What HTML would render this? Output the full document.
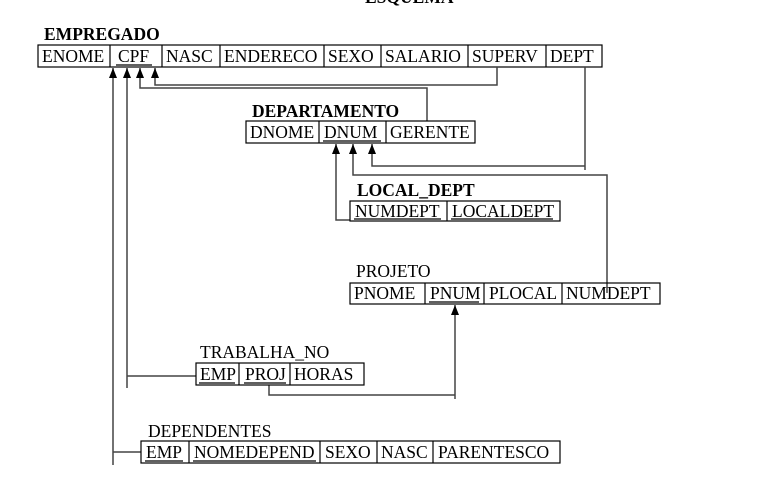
<!DOCTYPE html>
<html><head><meta charset="utf-8"><style>
body{margin:0;background:#fff;}
svg{display:block;font-family:"Liberation Serif",serif;font-size:17.5px;}
.b{font-weight:bold;}
rect{fill:none;stroke:#000;stroke-width:1.2;}
.c{stroke:#000;stroke-width:1.2;}
.l{fill:none;stroke:#444;stroke-width:1.5;}
</style></head><body>
<svg width="759" height="487" viewBox="0 0 759 487">
<defs><marker id="a" markerWidth="10" markerHeight="8" refX="10" refY="4" orient="auto" markerUnits="userSpaceOnUse"><path d="M0,0 L10,4 L0,8 Z" fill="#000"/></marker></defs>
<text x="365" y="3" class="b">ESQUEMA</text>
<!-- EMPREGADO -->
<text x="44" y="40" class="b">EMPREGADO</text>
<rect x="38" y="45" width="564" height="22"/>
<g class="c"><line x1="110" y1="45" x2="110" y2="67"/><line x1="162" y1="45" x2="162" y2="67"/><line x1="220" y1="45" x2="220" y2="67"/><line x1="324" y1="45" x2="324" y2="67"/><line x1="381" y1="45" x2="381" y2="67"/><line x1="468" y1="45" x2="468" y2="67"/><line x1="546" y1="45" x2="546" y2="67"/></g>
<text x="42" y="62">ENOME</text><text x="118" y="62">CPF</text><line class="c" x1="116" y1="65" x2="152" y2="65"/>
<text x="166" y="62">NASC</text><text x="224" y="62">ENDERECO</text><text x="328" y="62">SEXO</text><text x="385" y="62">SALARIO</text><text x="472" y="62">SUPERV</text><text x="550" y="62">DEPT</text>
<!-- connectors to CPF -->
<polyline class="l" points="113,465 113,68" marker-end="url(#a)"/>
<polyline class="l" points="196,376 127,376 127,388 127,68" marker-end="url(#a)"/>
<polyline class="l" points="141,452 113,452"/>
<polyline class="l" points="427,121 427,88 140,88 140,68" marker-end="url(#a)"/>
<polyline class="l" points="497,67 497,85 155,85 155,68" marker-end="url(#a)"/>
<!-- DEPARTAMENTO -->
<text x="252" y="117" class="b">DEPARTAMENTO</text>
<rect x="246" y="121" width="229" height="22"/>
<g class="c"><line x1="319" y1="121" x2="319" y2="143"/><line x1="386" y1="121" x2="386" y2="143"/></g>
<text x="250" y="138">DNOME</text><text x="324" y="138">DNUM</text><line class="c" x1="323" y1="141" x2="381" y2="141"/><text x="390" y="138">GERENTE</text>
<polyline class="l" points="585,67 585,170"/>
<polyline class="l" points="585,166 372,166 372,144" marker-end="url(#a)"/>
<polyline class="l" points="607,293 607,175 353,175 353,144" marker-end="url(#a)"/>
<polyline class="l" points="350,220 336,220 336,144" marker-end="url(#a)"/>
<!-- LOCAL_DEPT -->
<text x="357" y="196" class="b">LOCAL_DEPT</text>
<rect x="350" y="201" width="210" height="20"/>
<line class="c" x1="447" y1="201" x2="447" y2="221"/>
<text x="355" y="217">NUMDEPT</text><line class="c" x1="354" y1="219" x2="441" y2="219"/>
<text x="452" y="217">LOCALDEPT</text><line class="c" x1="451" y1="219" x2="553" y2="219"/>
<!-- PROJETO -->
<text x="356" y="277">PROJETO</text>
<rect x="350" y="283" width="310" height="21"/>
<g class="c"><line x1="425" y1="283" x2="425" y2="304"/><line x1="484" y1="283" x2="484" y2="304"/><line x1="562" y1="283" x2="562" y2="304"/></g>
<text x="354" y="299">PNOME</text><text x="430" y="299">PNUM</text><line class="c" x1="429" y1="302" x2="479" y2="302"/><text x="489" y="299">PLOCAL</text><text x="566" y="299">NUMDEPT</text>
<polyline class="l" points="269,385 269,395 455,395" /><polyline class="l" points="455,399 455,305" marker-end="url(#a)"/>
<!-- TRABALHA_NO -->
<text x="200" y="358">TRABALHA_NO</text>
<rect x="196" y="363" width="168" height="22"/>
<g class="c"><line x1="239" y1="363" x2="239" y2="385"/><line x1="290" y1="363" x2="290" y2="385"/></g>
<text x="200" y="380">EMP</text><line class="c" x1="199" y1="383" x2="235" y2="383"/>
<text x="245" y="380">PROJ</text><line class="c" x1="244" y1="383" x2="286" y2="383"/>
<text x="294" y="380">HORAS</text>
<!-- DEPENDENTES -->
<text x="148" y="437">DEPENDENTES</text>
<rect x="141" y="441" width="419" height="22"/>
<g class="c"><line x1="189" y1="441" x2="189" y2="463"/><line x1="320" y1="441" x2="320" y2="463"/><line x1="377" y1="441" x2="377" y2="463"/><line x1="433" y1="441" x2="433" y2="463"/></g>
<text x="146" y="458">EMP</text><line class="c" x1="145" y1="461" x2="183" y2="461"/>
<text x="194" y="458">NOMEDEPEND</text><line class="c" x1="193" y1="461" x2="316" y2="461"/>
<text x="325" y="458">SEXO</text><text x="381" y="458">NASC</text><text x="438" y="458">PARENTESCO</text>
</svg>
</body></html>
